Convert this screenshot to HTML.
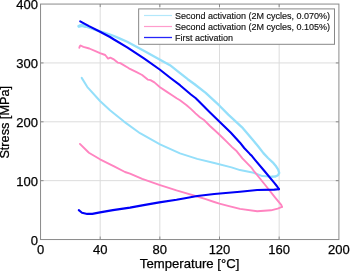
<!DOCTYPE html>
<html><head><meta charset="utf-8"><style>
html,body{margin:0;padding:0;background:#fff;}
svg{display:block;will-change:transform;} .t{opacity:0.995} .lg text{stroke-width:0.15px;fill:#111;stroke:#111;}
text{font-family:"Liberation Sans",sans-serif;fill:#000;stroke:#000;stroke-width:0.25px;}
</style></head><body>
<svg width="350" height="271" viewBox="0 0 350 271">
<rect width="350" height="271" fill="#fff"/>
<g stroke="#dcdcdc" stroke-width="1"><line x1="100.19" y1="4.06" x2="100.19" y2="239.54" /><line x1="159.84" y1="4.06" x2="159.84" y2="239.54" /><line x1="219.5" y1="4.06" x2="219.5" y2="239.54" /><line x1="279.15" y1="4.06" x2="279.15" y2="239.54" /><line x1="40.54" y1="180.67" x2="338.8" y2="180.67" /><line x1="40.54" y1="121.8" x2="338.8" y2="121.8" /><line x1="40.54" y1="62.93" x2="338.8" y2="62.93" /></g>
<g fill="none" stroke-linejoin="round" stroke-linecap="round">
<polyline points="78.9,26.2 82.0,25.3 87.7,27.1 96.9,30.3 104.0,32.6 110.0,34.6 114.0,36.0 120.0,38.6 127.2,41.8 144.3,50.9 160.0,59.7 170.0,65.2 177.2,70.8 187.7,79.2 194.3,84.0 205.7,92.9 219.5,105.7 228.3,114.6 238.3,123.9 242.9,128.2 252.9,140.0 258.3,146.5 263.4,153.1 268.0,158.0 272.7,162.3 275.6,165.7 278.2,169.7 279.2,172.9 278.0,175.3 275.5,176.5 272.6,176.7" stroke="#94dffa" stroke-width="2.3"/>
<polyline points="78.9,26.2 82,25.4 85,26.3" stroke="#94dffa" stroke-width="3.2"/>
<polyline points="272.6,176.7 262.3,176.1 253.7,172.7 240.0,170.1 231.5,167.4 214.3,163.0 197.2,158.9 180.0,153.4 160.0,144.4 140.0,133.2 124.0,121.6 113.7,113.2 110.0,110.2 100.0,101.0 87.2,86.8 81.7,77.9" stroke="#94dffa" stroke-width="2.0"/>
<polyline points="79.3,47.8 79.8,46.2 80.6,45.5 83.4,46.8 89.3,48.5 96.0,51.4 100.0,53.2 105.2,55.0 108.1,58.6 110.3,57.6 113.3,59.1 117.7,62.6 120.3,63.1 128.9,68.3 136.6,72.2 142.1,75.0 147.7,79.6 150.5,80.1 154.4,82.4 160.0,87.2 166.6,91.6 172.1,95.2 176.6,98.3 180.0,100.3 186.6,105.2 191.1,109.1 195.5,113.4 199.9,117.3 204.4,120.3 210.0,126.0 215.5,131.0 221.1,136.2 226.6,141.6 232.1,147.1 236.8,151.3 242.4,158.3 246.8,162.8 251.2,167.3 253.5,170.5 266.0,186.0 275.0,197.4 281.4,205.2 282.0,206.9" stroke="#ff84c0" stroke-width="1.9"/>
<polyline points="282.0,206.9 277.7,208.6 270.9,210.3 257.2,211.2 240.0,208.9 228.0,205.9 219.4,203.6 214.3,202.0 205.0,198.9 197.2,196.5 185.0,192.9 176.5,190.4 159.3,184.9 142.2,178.9 130.0,173.6 125.0,172.0 114.6,166.7 100.0,159.3 88.9,152.7 79.9,143.9" stroke="#ff84c0" stroke-width="1.9"/>
<polyline points="80.2,21.3 89.0,26.1 99.1,31.3 110.0,37.0 114.0,39.5 127.2,47.3 144.3,58.6 159.7,69.5 170.5,78.0 180.0,85.2 190.9,94.5 195.5,98.0 198.8,101.3 210.0,112.4 222.9,125.0 230.9,132.8 240.0,142.7 244.2,148.0 249.8,153.9 252.0,156.1 255.0,159.8 264.0,170.5 274.3,182.9 276.8,186.0 279.0,189.2" stroke="#0000f8" stroke-width="2.1"/>
<polyline points="279.0,189.2 274.3,189.6 257.2,190.0 240.0,191.7 214.3,194.0 197.2,196.0 185.0,198.3 176.5,199.8 159.3,202.4 142.2,205.4 130.0,207.6 112.9,210.1 100.0,212.4 92.3,213.9 87.2,213.9 82.0,212.7 78.8,210.1" stroke="#0000f8" stroke-width="2.1"/>
</g>
<g stroke="#8a8a8a" stroke-width="1"><line x1="100.19" y1="239.54" x2="100.19" y2="236.54" /><line x1="100.19" y1="4.06" x2="100.19" y2="7.06" /><line x1="159.84" y1="239.54" x2="159.84" y2="236.54" /><line x1="159.84" y1="4.06" x2="159.84" y2="7.06" /><line x1="219.5" y1="239.54" x2="219.5" y2="236.54" /><line x1="219.5" y1="4.06" x2="219.5" y2="7.06" /><line x1="279.15" y1="239.54" x2="279.15" y2="236.54" /><line x1="279.15" y1="4.06" x2="279.15" y2="7.06" /><line x1="40.54" y1="180.67" x2="43.54" y2="180.67" /><line x1="338.8" y1="180.67" x2="335.8" y2="180.67" /><line x1="40.54" y1="121.8" x2="43.54" y2="121.8" /><line x1="338.8" y1="121.8" x2="335.8" y2="121.8" /><line x1="40.54" y1="62.93" x2="43.54" y2="62.93" /><line x1="338.8" y1="62.93" x2="335.8" y2="62.93" /></g>
<rect x="40.54" y="4.06" width="298.36" height="235.48" fill="none" stroke="#8a8a8a" stroke-width="1"/>
<rect x="138.65" y="8.9" width="195.85" height="35.4" fill="#fff" stroke="#888" stroke-width="1"/>
<line x1="144" y1="15.5" x2="172" y2="15.5" stroke="#94dffa" stroke-width="1.2" opacity="0.7"/>
<line x1="144" y1="26.5" x2="172" y2="26.5" stroke="#ff84c0" stroke-width="1.2" opacity="0.8"/>
<line x1="144" y1="37.5" x2="172" y2="37.5" stroke="#0000f8" stroke-width="1.3" opacity="0.85"/>
<g font-size="9" class="t lg">
<text x="175" y="19.2">Second activation (2M cycles, 0.070%)</text>
<text x="175" y="30.2">Second activation (2M cycles, 0.105%)</text>
<text x="175" y="41.2">First activation</text>
</g>
<g font-size="13" class="t"><text x="38" y="244.7" text-anchor="end">0</text><text x="38" y="185.9" text-anchor="end">100</text><text x="38" y="127.0" text-anchor="end">200</text><text x="38" y="68.1" text-anchor="end">300</text><text x="38" y="9.3" text-anchor="end">400</text><text x="40.5" y="254" text-anchor="middle">0</text><text x="100.2" y="254" text-anchor="middle">40</text><text x="159.8" y="254" text-anchor="middle">80</text><text x="219.5" y="254" text-anchor="middle">120</text><text x="279.1" y="254" text-anchor="middle">160</text><text x="338.8" y="254" text-anchor="middle">200</text>
<text x="189.6" y="267.8" text-anchor="middle" font-size="13.15">Temperature [°C]</text>
<text transform="translate(8.8,122.3) rotate(-90)" text-anchor="middle" font-size="12.7">Stress [MPa]</text>
</g>
</svg>
</body></html>
